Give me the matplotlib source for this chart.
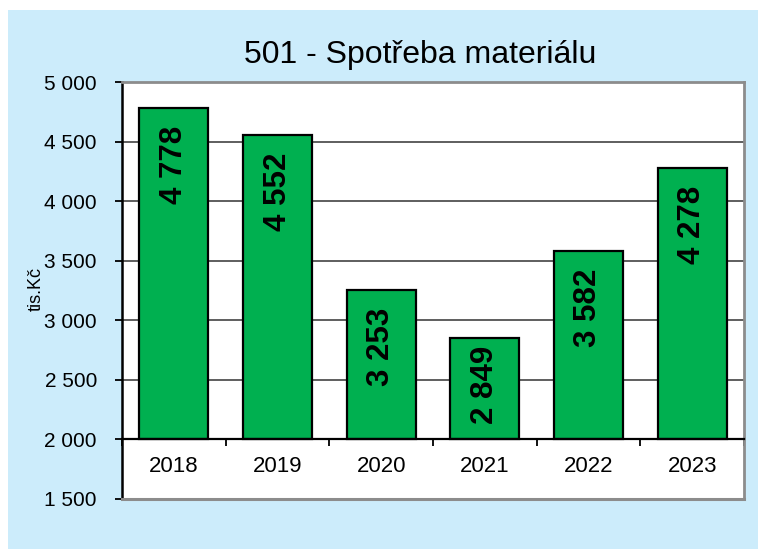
import matplotlib
matplotlib.use("Agg")
import matplotlib.pyplot as plt
from matplotlib.patches import Rectangle
from matplotlib.ticker import FuncFormatter, MultipleLocator, FixedLocator
import numpy as np

plt.rcParams['font.family'] = ['Liberation Sans', 'DejaVu Sans']

years = ['2018', '2019', '2020', '2021', '2022', '2023']
values = [4778, 4552, 3253, 2849, 3582, 4278]
baseline = 2000
title = "501 - Spotřeba materiálu"
ylabel = "tis.Kč"

W, H = 758, 549
fig = plt.figure(figsize=(W / 100, H / 100), dpi=100)
fig.patch.set_facecolor('white')
fig.patches.append(Rectangle((8 / W, 0), 1 - 8 / W, (H - 10) / H,
                             transform=fig.transFigure, facecolor='#CCECFB',
                             edgecolor='none', zorder=-10))

ax = fig.add_axes([122 / W, 1 - 499 / H, (744 - 122) / W, (499 - 82) / H])
ax.set_zorder(1)
ax.set_facecolor('white')

def fmt(v, pos=None):
    return f"{int(round(v)):,}".replace(",", " ")

x = np.arange(len(years))
heights = [v - baseline for v in values]
ax.bar(x, heights, bottom=baseline, width=0.665, color='#00B050',
       edgecolor='black', linewidth=1.6, zorder=3)

for xi, v in zip(x, values):
    if v - baseline > 1000:
        ax.annotate(fmt(v), xy=(xi, v), xytext=(0, -12.5), textcoords='offset points',
                    rotation=90, ha='center', va='top', fontsize=22.5,
                    fontweight='bold', color='black', zorder=4)
    else:
        ax.annotate(fmt(v), xy=(xi, (v + baseline) / 2), xytext=(0, 3),
                    textcoords='offset points', rotation=90, ha='center',
                    va='center', fontsize=22.5, fontweight='bold',
                    color='black', zorder=4)

ax.set_xlim(-0.5, len(years) - 0.5)
ax.set_ylim(1500, 5000)
ax.yaxis.set_major_locator(MultipleLocator(500))
ax.yaxis.set_major_formatter(FuncFormatter(fmt))
ax.set_axisbelow(True)
ax.yaxis.grid(True, color='#333333', linewidth=1.1, zorder=1)

ax.set_xticks(x)
ax.set_xticklabels(years)
ax.xaxis.set_minor_locator(FixedLocator(np.arange(-0.5, len(years), 1.0)))
ax.tick_params(axis='x', which='major', length=0, pad=12, labelsize=16)
ax.tick_params(axis='x', which='minor', length=5, width=1.3, direction='out', color='black')
ax.tick_params(axis='y', which='major', length=5, width=1.3, direction='out',
               pad=13, labelsize=15, color='black')

ax.spines['bottom'].set_position(('data', baseline))
ax.spines['bottom'].set_color('black')
ax.spines['bottom'].set_linewidth(1.6)
ax.spines['bottom'].set_zorder(5)
ax.spines['left'].set_color('black')
ax.spines['left'].set_linewidth(1.8)
for s in ['top', 'right']:
    ax.spines[s].set_color('#8c8c8c')
    ax.spines[s].set_linewidth(2)
ax.plot([0, 1], [0, 0], transform=ax.transAxes, color='#8c8c8c', lw=2.2,
        clip_on=False, zorder=6)

ax.set_ylabel(ylabel, fontsize=13)
ax.yaxis.set_label_coords((45 - 122) / (744 - 122), (499 - 289) / (499 - 82))

fig.text(420.5 / W, 1 - 63 / H, title, ha='center', va='baseline', fontsize=23)

fig.savefig('out.png', dpi=100, facecolor=fig.get_facecolor())
